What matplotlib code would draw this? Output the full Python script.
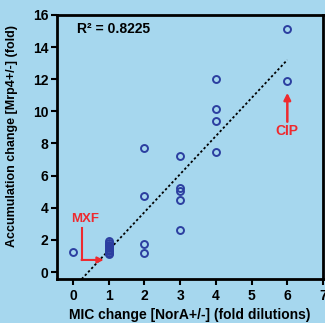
import numpy as np
import matplotlib
matplotlib.use('Agg')
import matplotlib.pyplot as plt

plt.rcParams['font.family'] = ['Liberation Sans', 'DejaVu Sans']
plt.rcParams['font.weight'] = 'bold'

# data
mic_change = [0,
              1, 1, 1, 1, 1, 1, 1, 1, 1,
              2, 2, 2, 2,
              3, 3, 3, 3, 3,
              4, 4, 4, 4,
              6, 6]
accum_change = [1.25,
                1.1, 1.2, 1.3, 1.4, 1.5, 1.6, 1.7, 1.8, 1.9,
                7.7, 4.75, 1.75, 1.2,
                7.2, 5.2, 5.05, 4.45, 2.6,
                12.0, 10.15, 9.4, 7.45,
                15.1, 11.9]
fit_slope = 2.37
fit_intercept = -1.02
r2_label = 'R\u00b2 = 0.8225'

bg = '#a6d7ee'
blue = '#2b3ea0'
red = '#ee2a2f'

fig = plt.figure(figsize=(3.25, 3.23), dpi=100, facecolor=bg)
ax = fig.add_axes((0.175, 0.136, 0.819, 0.818))
ax.set_facecolor(bg)

ax.plot(mic_change, accum_change, 'o', ms=5, mfc='none', mec=blue, mew=1.4,
        clip_on=False, zorder=3)

# regression line
x0 = (-0.44 - fit_intercept) / fit_slope
xs = np.array([x0, 6.0])
ax.plot(xs, fit_slope * xs + fit_intercept, ls=(0, (1.3, 1.3)), color='black', lw=1.3)

ax.set_xlim(-0.45, 7.0)
ax.set_ylim(-0.44, 16)
ax.set_xticks(range(0, 8))
ax.set_yticks(range(0, 17, 2))
for s in ax.spines.values():
    s.set_linewidth(2)
ax.tick_params(direction='out', length=4, width=1.5, labelsize=10, pad=2)
ax.tick_params(axis='x', pad=3)
for lbl in ax.get_xticklabels() + ax.get_yticklabels():
    lbl.set_fontweight('bold')

ax.set_xlabel('MIC change [NorA+/-] (fold dilutions)', fontsize=10,
              fontweight='bold', labelpad=4)
ax.set_ylabel('Accumulation change [Mrp4+/-] (fold)', fontsize=9,
              fontweight='bold')
ax.yaxis.set_label_coords(-0.145, 0.54)

ax.text(0.1, 15.1, r2_label, fontsize=10, fontweight='bold', va='center', ha='left')

# MXF annotation
ax.text(0.35, 3.3, 'MXF', color=red, fontsize=9.5, fontweight='bold',
        ha='center', va='center')
ax.plot([0.25, 0.25], [2.75, 0.75], color=red, lw=1.5)
ax.annotate('', xy=(0.86, 0.75), xytext=(0.24, 0.75),
            arrowprops=dict(arrowstyle='-|>', color=red, lw=1.5,
                            mutation_scale=9, shrinkA=0, shrinkB=0))

# CIP annotation
ax.annotate('', xy=(6.0, 11.15), xytext=(6.0, 9.35),
            arrowprops=dict(arrowstyle='-|>', color=red, lw=1.8,
                            mutation_scale=10, shrinkA=0, shrinkB=0))
ax.text(6.0, 8.8, 'CIP', color=red, fontsize=10, fontweight='bold',
        ha='center', va='center')

fig.savefig('out.png', dpi=100, facecolor=bg)
